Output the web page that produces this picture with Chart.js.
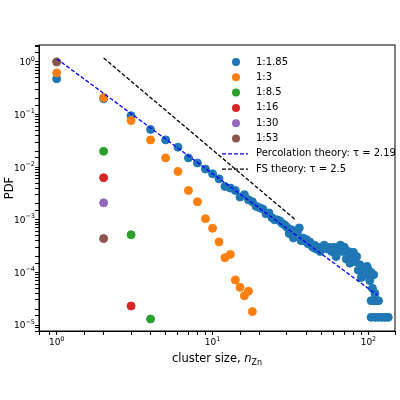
<!DOCTYPE html>
<html><head><meta charset="utf-8">
<script src="https://cdn.jsdelivr.net/npm/chart.js@4"></script>
<style>html,body{margin:0;background:#fff}#c{width:400px;height:400px}</style>
</head><body><div id="c"><canvas id="chart"></canvas></div>
<script>
// cluster-size distributions
const blueX = [1,2,3,4,5,6,7,8,9,10,11,12,13,14,15,16,17,18,19,20,21,22,23,24,25,26,27,28,29,30,31,32,33,34,35,36,37,38,39,40,41,42,43,44,45,46,47,48,49,50,52,54,56,58,60,62,64,66,68,70,72,74,76,78,80,82,84,86,88,90,92,94,96,98,100,102,104,106,108,110,104,108,112,116,104,110,116,122,128,134];
const blueY = [.48,.20,.095,.052,.033,.024,.015,.012,.0092,.0075,.0060,.0043,.0040,.0036,.0027,.0030,.0024,.0022,.0018,.0017,.0016,.0013,.00135,.0011,.0010,.0010,.00095,.00085,.0008,.00072,.00055,.00065,.00045,.0006,.00058,.0007,.0004,.00045,.0004,.00042,.00035,.00038,.00033,.0003,.00033,.00028,.0003,.0003,.00025,.00028,.00033,.00028,.0003,.00025,.0003,.0002,.00028,.00033,.00025,.0003,.00018,.00025,.00015,.0002,.00024,.00016,.0002,.00011,.00014,.00008,.00012,.0001,.00009,.00013,.00011,.00007,.0001,.00005,.00009,.00004,.000029,.000029,.000029,.000029,.000014,.000014,.000014,.000014,.000014,.000014];
const orangeX = [1,2,3,4,5,6,7,8,9,10,11,12,13,14,15,16,17,18];
const orangeY = [.62,.21,.077,.033,.015,.0083,.0036,.0022,.00105,.00069,.00038,.00019,.00022,.000072,.000052,.000036,.000044,.000018];
const greenX = [2,3,4], greenY = [.02,.00052,.000013];
const redX = [2,3], redY = [.0063,.000023];
const purpleX = [2], purpleY = [.0021];
const brownX = [1,2], brownY = [1.0,.00044];
const percX = [1,114], percY = [1.15,3.7e-5];
const fsX = [2,34], fsY = [1.19,1.0e-3];
const xTickVals = [1,10,100];
const yTickVals = [1,1e-1,1e-2,1e-3,1e-4,1e-5];

const pts = (xs, ys) => xs.map((x, i) => ({x, y: ys[i]}));
const scatter = (label, xs, ys, color) => ({label, data: pts(xs, ys), backgroundColor: color, borderColor: color,
  pointRadius: 4, pointHoverRadius: 4, showLine: false, type: 'scatter'});

const legendItems = [
  {t:'1:1.85', c:'#1f77b4'},{t:'1:3', c:'#ff7f0e'},{t:'1:8.5', c:'#2ca02c'},{t:'1:16', c:'#d62728'},
  {t:'1:30', c:'#9467bd'},{t:'1:53', c:'#8c564b'},{t:'Percolation theory: τ = 2.19', c:'blue', line:true},
  {t:'FS theory: τ = 2.5', c:'black', line:true}];

// "10" with raised exponent
function powLabel(ctx, v, x, y, align) {
  const e = String(Math.round(Math.log10(v))).replace('-', '−');
  ctx.font = '9px "DejaVu Sans"'; const wb = ctx.measureText('10').width;
  ctx.font = '6.5px "DejaVu Sans"'; const we = ctx.measureText(e).width;
  const x0 = align === 'right' ? x - wb - we : x - (wb + we)/2;
  ctx.font = '9px "DejaVu Sans"'; ctx.fillText('10', x0, y);
  ctx.font = '6.5px "DejaVu Sans"'; ctx.fillText(e, x0 + wb, y - 4);
}

const extras = {
  id: 'extras',
  afterDraw(chart) {
    const ctx = chart.ctx, a = chart.chartArea, sx = chart.scales.x, sy = chart.scales.y;
    ctx.save();
    ctx.strokeStyle = '#000'; ctx.lineWidth = 1;
    ctx.strokeRect(a.left, a.top, a.right - a.left, a.bottom - a.top);
    ctx.fillStyle = '#000'; ctx.textBaseline = 'middle';
    xTickVals.forEach(v => powLabel(ctx, v, sx.getPixelForValue(v), a.bottom + 12, 'center'));
    yTickVals.forEach(v => powLabel(ctx, v, a.left - 4, sy.getPixelForValue(v) + 1, 'right'));
    ctx.font = '11.5px "DejaVu Sans"'; ctx.translate(10, (a.top + a.bottom)/2); ctx.rotate(-Math.PI/2);
    ctx.textAlign = 'center'; ctx.fillText('PDF', 0, 0);
    ctx.setTransform(chart.currentDevicePixelRatio, 0, 0, chart.currentDevicePixelRatio, 0, 0);
    ctx.textAlign = 'left';
    ctx.font = '10px "DejaVu Sans"';
    let y = 62;
    legendItems.forEach(it => {
      if (it.line) {
        ctx.strokeStyle = it.c; ctx.lineWidth = 1.3; ctx.setLineDash([4,2]);
        ctx.beginPath(); ctx.moveTo(222, y); ctx.lineTo(248, y); ctx.stroke(); ctx.setLineDash([]);
      } else {
        ctx.fillStyle = it.c; ctx.beginPath(); ctx.arc(236, y, 4, 0, Math.PI*2); ctx.fill();
      }
      ctx.fillStyle = '#000'; ctx.fillText(it.t, 256, y);
      y += 15.3;
    });
    // x title with subscript
    ctx.textBaseline = 'alphabetic';
    ctx.font = '11.5px "DejaVu Sans"'; const s1 = 'cluster size, '; const w1 = ctx.measureText(s1).width;
    ctx.font = 'italic 11.5px "DejaVu Sans"'; const w2 = ctx.measureText('n').width;
    ctx.font = '8px "DejaVu Sans"'; const w3 = ctx.measureText('Zn').width;
    const x0 = (a.left + a.right)/2 - (w1 + w2 + w3)/2;
    ctx.font = '11.5px "DejaVu Sans"'; ctx.fillText(s1, x0, 362);
    ctx.font = 'italic 11.5px "DejaVu Sans"'; ctx.fillText('n', x0 + w1, 362);
    ctx.font = '8px "DejaVu Sans"'; ctx.fillText('Zn', x0 + w1 + w2, 365);
    ctx.restore();
  }
};

new Chart(document.getElementById('chart'), {
  type: 'scatter',
  data: { datasets: [
    {label:'perc', type:'line', data: pts(percX, percY), borderColor:'blue', borderWidth:1.3, borderDash:[4,2], pointRadius:0, fill:false},
    {label:'fs', type:'line', data: pts(fsX, fsY), borderColor:'black', borderWidth:1.3, borderDash:[4,2], pointRadius:0, fill:false},
    scatter('1:53', brownX, brownY, '#8c564b'),
    scatter('1:30', purpleX, purpleY, '#9467bd'),
    scatter('1:16', redX, redY, '#d62728'),
    scatter('1:8.5', greenX, greenY, '#2ca02c'),
    scatter('1:3', orangeX, orangeY, '#ff7f0e'),
    scatter('1:1.85', blueX, blueY, '#1f77b4'),
  ]},
  options: {
    responsive: true, maintainAspectRatio: false, animation: false,
    layout: { padding: {top: 45, right: 2, bottom: 65, left: 35} },
    plugins: { legend: {display: false}, tooltip: {enabled: false} },
    scales: {
      x: { type: 'logarithmic', min: 0.77, max: 148,
        grid: {drawOnChartArea: false, drawTicks: true, tickLength: 4, color: '#000'},
        border: {color: '#000', width: 1},
        ticks: {display: false, autoSkip: false} },
      y: { type: 'logarithmic', min: 7.7e-6, max: 2.1,
        grid: {drawOnChartArea: false, drawTicks: true, tickLength: 4, color: '#000'},
        border: {color: '#000', width: 1},
        ticks: {display: false, autoSkip: false} }
    }
  },
  plugins: [extras]
});
</script></body></html>
